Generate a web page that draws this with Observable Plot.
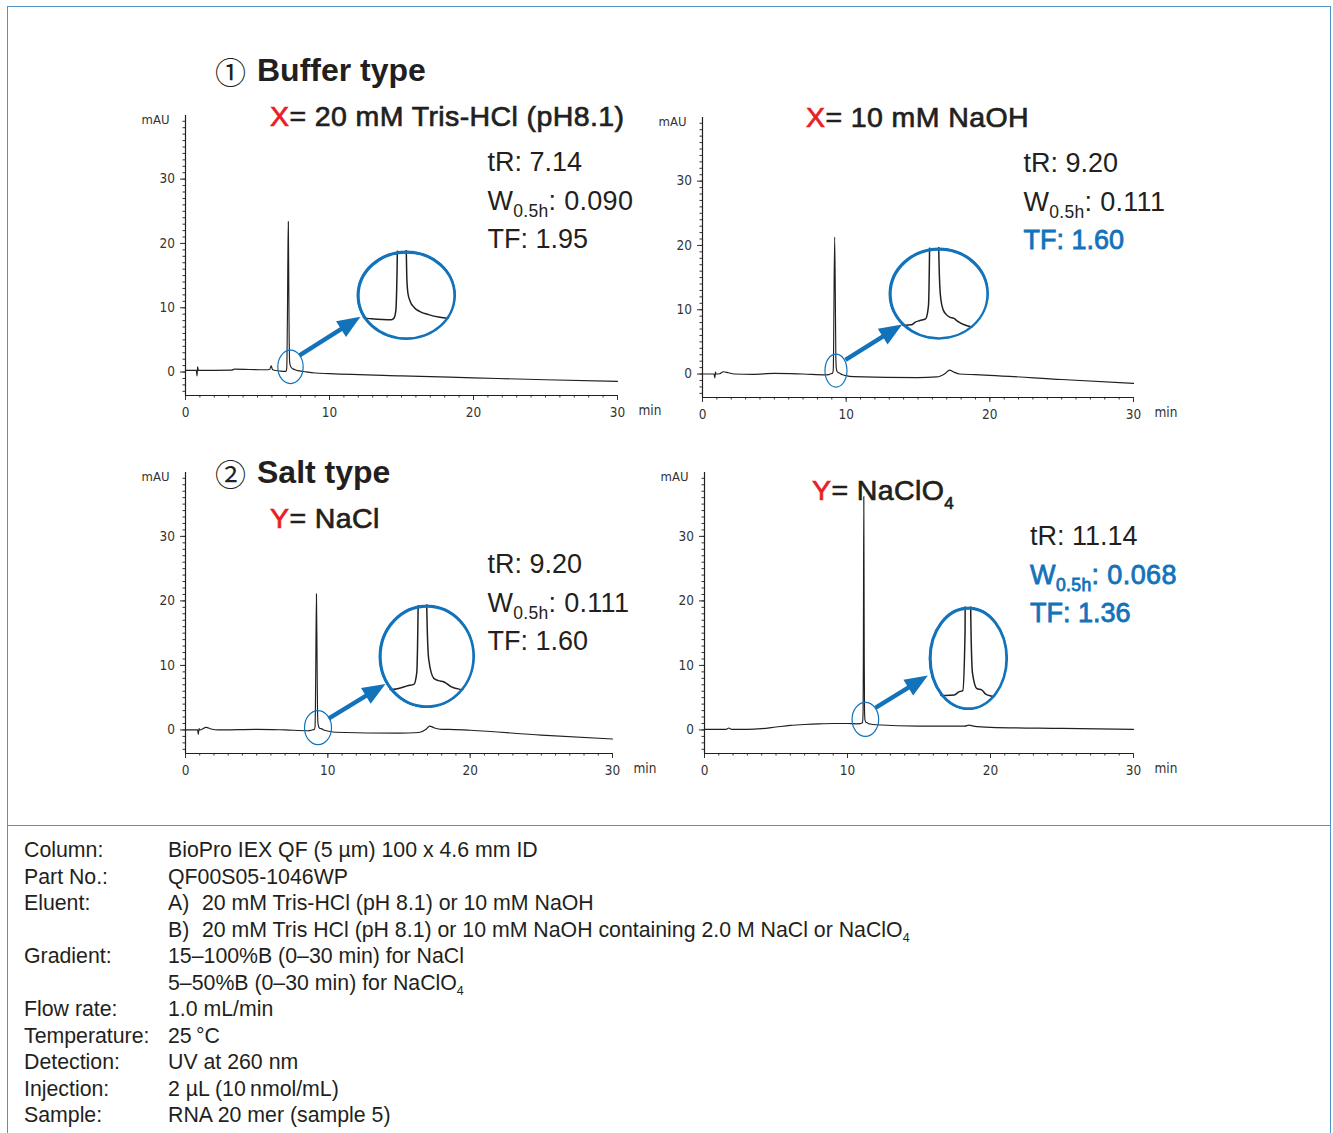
<!DOCTYPE html>
<html><head><meta charset="utf-8">
<script src="https://cdn.jsdelivr.net/npm/d3@7"></script>
<script src="https://cdn.jsdelivr.net/npm/@observablehq/plot@0.6"></script>
<style>
html,body{margin:0;padding:0;background:#fff;}
#page{position:relative;width:1333px;height:1133px;overflow:hidden;background:#fff;}
#frame{position:absolute;left:7px;top:6px;width:1324px;height:1150px;border:1.5px solid #4d93cc;box-sizing:border-box;}
#divider{position:absolute;left:7px;top:825px;width:1324px;height:0;border-top:1.5px solid #4d93cc;}
.panel,.inset{position:absolute;}
</style></head>
<body><div id="page"><div id="frame"></div><div id="divider"></div></div>
<script>
// ---------------- data ----------------
const xTicks = [0, 10, 20, 30];
const yTicks = [0, 10, 20, 30];

// ① Buffer type, X = 20 mM Tris-HCl (pH8.1)
const trisTime = [0, 0.75, 0.8, 0.84, 0.9, 3.2, 3.4, 5.5, 5.85, 5.95, 6.05, 6.6, 6.95, 7.0, 7.03, 7.05, 7.08, 7.11, 7.14, 7.17, 7.2, 7.22, 7.24, 7.28, 7.35, 7.45, 7.6, 7.8, 8.0, 8.3, 9.0, 10, 15, 20, 25, 30];
const trisMAU  = [0.25, 0.25, -0.6, 0.8, 0.25, 0.3, 0.45, 0.35, 0.4, 0.95, 0.35, 0.15, 0.1, 0.2, 0.6, 2.5, 9, 18, 23.4, 14, 5, 2.2, 1.4, 1.0, 0.7, 0.5, 0.35, 0.22, 0.15, 0.05, -0.15, -0.25, -0.6, -0.9, -1.2, -1.45];
// X = 10 mM NaOH
const naohTime = [0, 0.8, 0.86, 0.9, 0.95, 1.2, 1.45, 1.8, 2.2, 3.5, 5, 7, 8.6, 8.8, 8.87, 8.95, 9.05, 9.1, 9.12, 9.14, 9.2, 9.26, 9.28, 9.31, 9.36, 9.43, 9.48, 9.54, 9.6, 9.75, 9.9, 10.5, 15, 16.3, 16.9, 17.2, 17.5, 17.9, 19, 20, 25, 30];
const naohMAU  = [0, 0, -0.6, 0.3, 0, 0.05, 0.35, 0.2, 0, -0.05, 0.1, 0, -0.12, -0.1, 0, 0.06, 0.12, 0.6, 2.8, 8, 21.3, 8, 2.8, 1.0, 0.45, 0.25, 0.18, 0.15, 0.05, -0.12, -0.2, -0.4, -0.55, -0.45, 0.1, 0.6, 0.3, 0.0, -0.1, -0.2, -0.85, -1.45];
// ② Salt type, Y = NaCl
const naclTime = [0, 0.85, 0.9, 0.95, 1.0, 1.45, 1.8, 2.3, 5, 7, 8.6, 8.83, 8.94, 9.05, 9.1, 9.125, 9.15, 9.2, 9.25, 9.275, 9.31, 9.4, 9.48, 9.58, 9.7, 9.9, 10.5, 15, 16.4, 16.9, 17.15, 17.5, 18, 18.5, 20, 25, 30];
const naclMAU  = [0, 0, -0.7, 0.2, 0, 0.4, 0.15, 0, 0.1, 0, -0.12, -0.04, 0.03, 0.08, 0.5, 3.0, 9, 21.1, 9, 3.0, 1.0, 0.3, 0.22, 0.17, 0.0, -0.12, -0.35, -0.5, -0.4, 0.1, 0.6, 0.3, 0.1, 0.1, -0.05, -0.8, -1.4];
// Y = NaClO4
const percTime = [0, 1.5, 1.7, 1.9, 3, 4, 5, 6, 7, 8, 9, 10, 10.6, 10.9, 10.98, 11.05, 11.09, 11.11, 11.14, 11.17, 11.19, 11.22, 11.3, 11.38, 11.45, 11.58, 12, 15, 18.2, 18.5, 18.8, 20, 25, 30];
const percMAU  = [0.1, 0.1, 0.3, 0.1, 0.1, 0.2, 0.45, 0.7, 0.85, 0.95, 1.0, 1.0, 0.95, 0.97, 1.06, 1.1, 2.8, 12, 36.2, 12, 3.2, 1.6, 1.15, 1.12, 1.0, 0.93, 0.8, 0.6, 0.6, 0.75, 0.6, 0.4, 0.25, 0.1];

// peak statistics
const tRValues = ["7.14", "9.20", "9.20", "11.14"];
const wValues  = ["0.090", "0.111", "0.111", "0.068"];
const tfValues = ["1.95", "1.60", "1.60", "1.36"];

// conditions table
const condLabels = ["Column:", "Part No.:", "Eluent:", "", "Gradient:", "", "Flow rate:", "Temperature:", "Detection:", "Injection:", "Sample:"];
const condValues = [
  [["BioPro IEX QF (5 µm) 100 x 4.6 mm ID"]],
  [["QF00S05-1046WP"]],
  [["A)"], ["20 mM Tris-HCl (pH 8.1) or 10 mM NaOH", 34]],
  [["B)"], ["20 mM Tris HCl (pH 8.1) or 10 mM NaOH containing 2.0 M NaCl or NaClO", 34, "4"]],
  [["15–100%B (0–30 min) for NaCl"]],
  [["5–50%B (0–30 min) for NaClO", 0, "4"]],
  [["1.0 mL/min"]],
  [["25\u2009°C"]],
  [["UV at 260 nm"]],
  [["2 µL (10\u2009nmol/mL)"]],
  [["RNA 20 mer (sample 5)"]]
];

// ---------------- style / layout ----------------
const INK = "#231f20", BLUE = "#1273bb", RED = "#ec1c24";
const SANS = '"Liberation Sans", Arial, Helvetica, sans-serif';
const NARROW = '"Liberation Sans Narrow", "DejaVu Sans Condensed", "Liberation Sans", sans-serif';
const yDomain = [-3.65, 39.9];
const xMinor = d3.range(0, 31);
const yMinor = d3.range(-3, 40);

const panels = [
  {left: 130, top: 100, m: [15, 53, 35, 55], time: trisTime, mau: trisMAU,
   small: {x: 7.29, y: 0.8, rx: 12.7, ry: 16.7}, arrow: {x1: 7.92, y1: 2.6, x2: 12.15, y2: 8.6},
   inset: {x: 15.35, y: 11.9, rx: 50, ry: 45, xd: [6.34, 8.09], yd: [-0.92, 3.5]}},
  {left: 650, top: 100, m: [17, 57, 33, 52], time: naohTime, mau: naohMAU,
   small: {x: 9.29, y: 0.54, rx: 11, ry: 16.5}, arrow: {x1: 9.95, y1: 2.2, x2: 13.9, y2: 7.7},
   inset: {x: 16.46, y: 12.5, rx: 50.5, ry: 46.5, xd: [8.40, 10.17], yd: [-0.69, 2.8]}},
  {left: 130, top: 460, m: [12, 58, 37, 55], time: naclTime, mau: naclMAU,
   small: {x: 9.31, y: 0.36, rx: 13.5, ry: 17}, arrow: {x1: 10.05, y1: 1.75, x2: 14.05, y2: 7.13},
   inset: {x: 16.97, y: 11.36, rx: 48.5, ry: 52, xd: [8.43, 10.13], yd: [-0.8, 3.0]}},
  {left: 650, top: 460, m: [12, 57, 37, 54], time: percTime, mau: percMAU,
   small: {x: 11.25, y: 1.64, rx: 13.3, ry: 17}, arrow: {x1: 11.95, y1: 3.41, x2: 15.62, y2: 8.42},
   inset: {x: 18.47, y: 11.05, rx: 40, ry: 52, xd: [10.45, 11.85], yd: [0.53, 3.5]}}
];
const PW = 540, PH = 330;

function ellipseSymbol(rx, ry) {
  const k = 0.5522847;
  return {draw(c) {
    c.moveTo(rx, 0);
    c.bezierCurveTo(rx, ry * k, rx * k, ry, 0, ry);
    c.bezierCurveTo(-rx * k, ry, -rx, ry * k, -rx, 0);
    c.bezierCurveTo(-rx, -ry * k, -rx * k, -ry, 0, -ry);
    c.bezierCurveTo(rx * k, -ry, rx, -ry * k, rx, 0);
    c.closePath();
  }};
}
const arrowShape = {draw(c, l) {
  const w = 2.2, hl = Math.min(23, l * 0.5), hw = 9.3;
  c.moveTo(-w, 0); c.lineTo(-w, -(l - hl)); c.lineTo(-hw, -(l - hl)); c.lineTo(0, -l);
  c.lineTo(hw, -(l - hl)); c.lineTo(w, -(l - hl)); c.lineTo(w, 0); c.closePath();
}};

const page = document.getElementById("page");

for (const p of panels) {
  const [mt, mr, mb, ml] = p.m;
  const data = p.time.map((t, i) => ({t, v: p.mau[i]}));
  const pxX = (PW - ml - mr) / 30, pxY = (PH - mt - mb) / (yDomain[1] - yDomain[0]);
  const a = p.arrow;
  const dxp = (a.x2 - a.x1) * pxX, dyp = (a.y2 - a.y1) * pxY;
  const len = Math.hypot(dxp, dyp), rot = Math.atan2(dxp, dyp) * 180 / Math.PI;
  const chart = Plot.plot({
    width: PW, height: PH, marginTop: mt, marginRight: mr, marginBottom: mb, marginLeft: ml,
    style: {fontFamily: NARROW, fontSize: "13.5px", color: "#333", background: "transparent", overflow: "visible"},
    x: {domain: [0, 30]},
    y: {domain: yDomain},
    marks: [
      Plot.axisY({ticks: yMinor, tickSize: 2.5, tickFormat: () => "", label: null}),
      Plot.axisY({ticks: yTicks, tickSize: 5, tickPadding: 5.5, label: null, fontSize: 13.5}),
      Plot.axisX({ticks: xMinor, tickSize: 2.5, tickFormat: () => "", label: null}),
      Plot.axisX({ticks: xTicks, tickSize: 5, tickPadding: 6.5, label: null, fontSize: 13.5}),
      Plot.ruleX([0], {stroke: INK, strokeWidth: 1.2}),
      Plot.ruleY([yDomain[0]], {stroke: INK, strokeWidth: 1.2}),
      Plot.line(data, {x: "t", y: "v", stroke: INK, strokeWidth: 1.15, curve: "monotone-x"}),
      Plot.dot([p.small], {x: "x", y: "y", symbol: ellipseSymbol(p.small.rx, p.small.ry), stroke: BLUE, strokeWidth: 1.2, fill: "none"}),
      Plot.vector([a], {x: "x1", y: "y1", length: len, rotate: rot, anchor: "start", shape: arrowShape, fill: BLUE, stroke: "none"}),
      Plot.text(["mAU"], {text: d => d, frameAnchor: "top-left", textAnchor: "end", lineAnchor: "top", dx: -16, dy: -1, fontSize: 13, fill: "#333"}),
      Plot.text(["min"], {text: d => d, frameAnchor: "bottom-right", textAnchor: "start", dx: 21, dy: 19.5, fontSize: 13.5, fill: "#333"})
    ]
  });
  const wrap = document.createElement("div");
  wrap.className = "panel";
  wrap.style.left = p.left + "px"; wrap.style.top = p.top + "px";
  wrap.appendChild(chart);
  page.appendChild(wrap);

  // magnified inset of the peak base
  const sx = chart.scale("x"), sy = chart.scale("y");
  const {rx, ry} = p.inset;
  const cx = sx.apply(p.inset.x), cy = sy.apply(p.inset.y);
  const inset = Plot.plot({
    width: 2 * rx, height: 2 * ry, margin: 0,
    style: {background: "transparent"},
    x: {domain: p.inset.xd, axis: null},
    y: {domain: p.inset.yd, axis: null},
    marks: [
      Plot.line(data, {x: "t", y: "v", stroke: INK, strokeWidth: 1.5, curve: "monotone-x"}),
      Plot.dot([0], {frameAnchor: "middle", symbol: ellipseSymbol(rx - 1.6, ry - 1.6), stroke: BLUE, strokeWidth: 3.2, fill: "none"})
    ]
  });
  const iw = document.createElement("div");
  iw.className = "inset";
  iw.style.left = (p.left + cx - rx) + "px";
  iw.style.top = (p.top + cy - ry) + "px";
  iw.style.width = 2 * rx + "px"; iw.style.height = 2 * ry + "px";
  iw.style.clipPath = `ellipse(${rx}px ${ry}px at 50% 50%)`;
  iw.appendChild(inset);
  page.appendChild(iw);
}

// ---------------- text overlay ----------------
const svg = d3.select(page).append("svg")
  .attr("width", 1333).attr("height", 1133)
  .style("position", "absolute").style("left", 0).style("top", 0).style("pointer-events", "none");

function txt(x, y, parts, o = {}) {
  const t = svg.append("text").attr("x", x).attr("y", y)
    .attr("font-family", o.family || SANS).attr("font-size", o.size || 27)
    .attr("font-weight", o.weight || 400).attr("fill", o.fill || INK);
  if (o.stroke) t.attr("stroke", o.fill || INK).attr("stroke-width", o.stroke);
  if (o.ls) t.attr("letter-spacing", o.ls);
  let shift = 0;
  for (const part of parts) {
    const s = t.append("tspan").text(part.t);
    if (part.fill) s.attr("fill", part.fill).attr("stroke", o.stroke ? part.fill : null);
    const want = part.dy || 0;
    if (want !== shift) { s.attr("dy", want - shift); shift = want; }
    if (part.size) s.attr("font-size", part.size);
    if (part.family) s.attr("font-family", part.family);
  }
  return t;
}

// section headings
txt(215, 84, [{t: "①"}], {family: '"Noto Sans CJK JP", "DejaVu Sans", sans-serif', size: 31});
txt(257, 81, [{t: "Buffer type"}], {size: 32, weight: 700});
txt(215, 486, [{t: "②"}], {family: '"Noto Sans CJK JP", "DejaVu Sans", sans-serif', size: 31});
txt(257, 483, [{t: "Salt type"}], {size: 32, weight: 700});

// condition headings
const head = {size: 28.5, stroke: 0.7, ls: 0.4};
txt(270, 126, [{t: "X", fill: RED}, {t: "= 20 mM Tris-HCl (pH8.1)"}], head);
txt(806, 127, [{t: "X", fill: RED}, {t: "= 10 mM NaOH"}], head);
txt(270, 528, [{t: "Y", fill: RED}, {t: "= NaCl"}], head);
txt(812, 500, [{t: "Y", fill: RED}, {t: "= NaClO"}, {t: "4", size: 17, dy: 9}], head);

// statistics
const statPos = [[487.5, 171], [1023.5, 172], [487.5, 573], [1030, 545]];
const blueTF = [false, true, false, true];
const blueW = [false, false, false, true];
statPos.forEach(([x, y], i) => {
  txt(x, y, [{t: "tR: " + tRValues[i]}], {size: 27});
  const wOpt = blueW[i] ? {size: 27, fill: BLUE, stroke: 0.8, ls: 0.4} : {size: 27, ls: 0.3};
  txt(x, y + 38.8, [{t: "W"}, {t: "0.5h", size: 17.5, dy: 7.5}, {t: ": " + wValues[i]}], wOpt);
  const tOpt = blueTF[i] ? {size: 27, fill: BLUE, stroke: 0.8} : {size: 27};
  txt(x, y + 77.3, [{t: "TF: " + tfValues[i]}], tOpt);
});

// conditions
condLabels.forEach((lab, i) => {
  const y = 857 + 26.5 * i;
  if (lab) txt(24, y, [{t: lab}], {size: 21.3});
  condValues[i].forEach(([s, dx, sub]) => {
    const parts = [{t: s}];
    if (sub) parts.push({t: sub, size: 12.5, dy: 5});
    txt(168 + (dx || 0), y, parts, {size: 21.3});
  });
});
</script>
</body></html>
